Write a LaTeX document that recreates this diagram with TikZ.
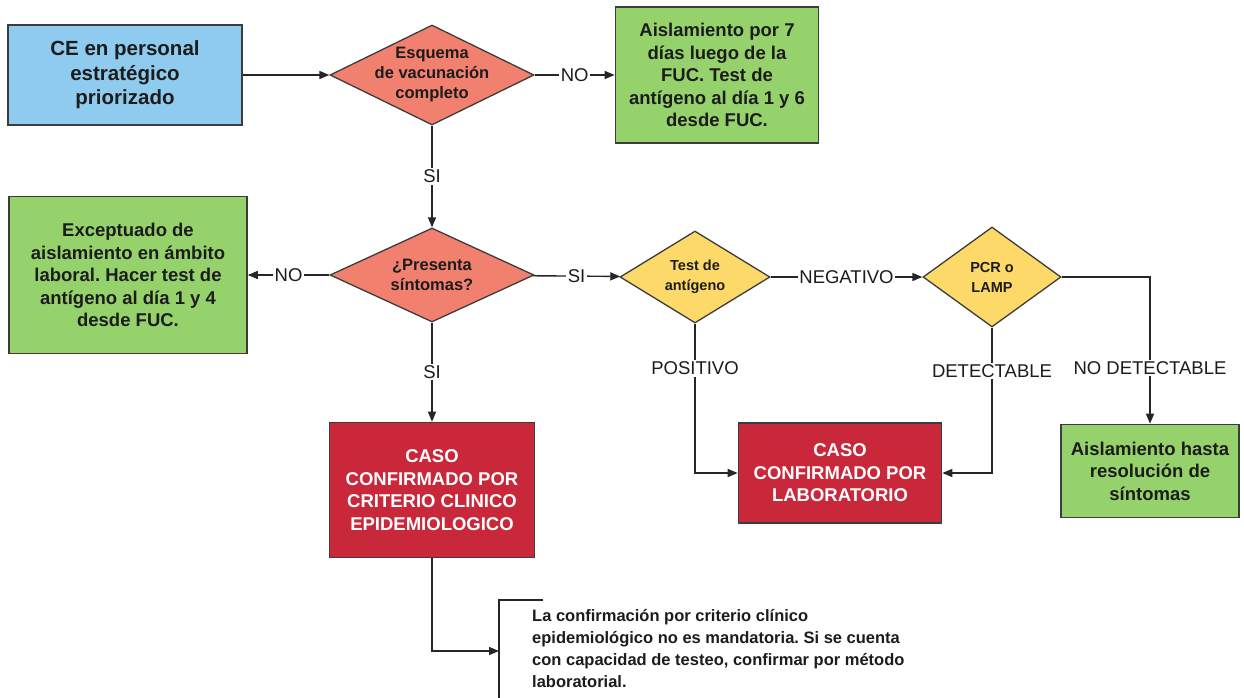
\documentclass[tikz,border=0pt]{standalone}
\usepackage{fontspec}
\setmainfont{Liberation Sans}
\usetikzlibrary{shapes.geometric,arrows.meta}
\definecolor{cblue}{HTML}{8FCBEE}
\definecolor{csalmon}{HTML}{F2806F}
\definecolor{cgreen}{HTML}{96D26C}
\definecolor{cyellow}{HTML}{FDD96A}
\definecolor{cred}{HTML}{C8283A}
\definecolor{cborder}{HTML}{3C3C3C}
\definecolor{ctext}{HTML}{1C1C1C}
\frenchspacing
\begin{document}
\begin{tikzpicture}[x=1pt,y=-1pt,
  box/.style={draw=cborder, line width=1.6pt, inner sep=0pt, align=center, text=ctext,
    font=\bfseries\fontsize{18.5}{22.5}\selectfont},
  dia/.style={draw=cborder, line width=1.3pt, shape=diamond, inner sep=0pt},
  dtext/.style={align=center, text=ctext, font=\bfseries\fontsize{16.5}{20}\selectfont},
  ytext/.style={align=center, text=ctext, font=\bfseries\fontsize{14.5}{20}\selectfont},
  lab/.style={fill=white, inner sep=1.5pt, text=ctext, font=\fontsize{18.5}{20}\selectfont},
  conn/.style={line width=1.4pt, draw=black!85, -{Triangle[length=10pt,width=8pt]}},
  plain/.style={line width=1.4pt, draw=black!85}]
\useasboundingbox (0,0) rectangle (1244,698);
\fill[white] (0,0) rectangle (1244,698);

% nodes
\node[box, fill=cblue, minimum width=234pt, minimum height=100pt,
      font=\bfseries\fontsize{20.5}{24.5}\selectfont] (ce) at (125,75)
      {CE en personal\\estratégico\\priorizado};
\node[dia, fill=csalmon, minimum width=204pt, minimum height=100pt] (d1) at (432,75) {};
\node[dtext] (d1t) at (d1) {Esquema\\de vacunación\\completo};
\node[box, fill=cgreen, minimum width=203pt, minimum height=136pt] (g1) at (717,75)
      {Aislamiento por 7\\días luego de la\\FUC. Test de\\antígeno al día 1 y 6\\desde FUC.};

\node[dia, fill=csalmon, minimum width=204pt, minimum height=94pt] (d2) at (432,275) {};
\node[dtext] (d2t) at (d2) {¿Presenta\\síntomas?};
\node[box, fill=cgreen, minimum width=238pt, minimum height=157pt] (g2) at (128,275)
      {Exceptuado de\\aislamiento en ámbito\\laboral. Hacer test de\\antígeno al día 1 y 4\\desde FUC.};

\node[dia, fill=cyellow, minimum width=150pt, minimum height=92pt] (d3) at (695,277) {};
\node[ytext] (d3t) at (d3) {Test de\\antígeno};
\node[dia, fill=cyellow, minimum width=138pt, minimum height=100pt] (d4) at (992,277) {};
\node[ytext] (d4t) at (d4) {PCR o\\LAMP};

\node[box, fill=cred, text=white, minimum width=205pt, minimum height=135pt] (cc) at (432,490)
      {CASO\\CONFIRMADO POR\\CRITERIO CLINICO\\EPIDEMIOLOGICO};
\node[box, fill=cred, text=white, minimum width=203pt, minimum height=100pt] (cl) at (840,473)
      {CASO\\CONFIRMADO POR\\LABORATORIO};
\node[box, fill=cgreen, minimum width=178pt, minimum height=93pt] (g3) at (1150,471)
      {Aislamiento hasta\\resolución de\\síntomas};

\node[anchor=north west, inner sep=0pt, align=left, text=ctext,
      font=\bfseries\fontsize{16.5}{22}\selectfont] (note) at (532,609)
      {La confirmación por criterio clínico\\epidemiológico no es mandatoria. Si se cuenta\\con capacidad de testeo, confirmar por método\\laboratorial.};

\coordinate (brtop) at (543,600);
\coordinate (brbot) at (499,700);
\coordinate (brin) at (499,651);

% connectors
\draw[conn] (ce) -- (d1);
\draw[conn] (d1) -- node[lab]{NO} (g1);
\draw[conn] (d1) -- node[lab]{SI} (d2);
\draw[conn] (d2) -- node[lab]{NO} (g2);
\draw[conn] (d2) -- node[lab]{SI} (d3);
\draw[conn] (d2) -- node[lab]{SI} (cc);
\draw[conn] (d3) -- node[lab]{NEGATIVO} (d4);
\draw[conn] (d3.south) |- node[lab, pos=0.15]{POSITIVO} (cl.west);
\draw[conn] (d4.south) |- node[lab, pos=0.15]{DETECTABLE} (cl.east);
\draw[conn] (d4.east) -| node[lab, pos=0.81]{NO DETECTABLE} (g3.north);
\draw[conn] (cc.south) |- (brin);
\draw[plain] (brtop) -- (brtop -| brin) -- (brbot);
\end{tikzpicture}
\end{document}
